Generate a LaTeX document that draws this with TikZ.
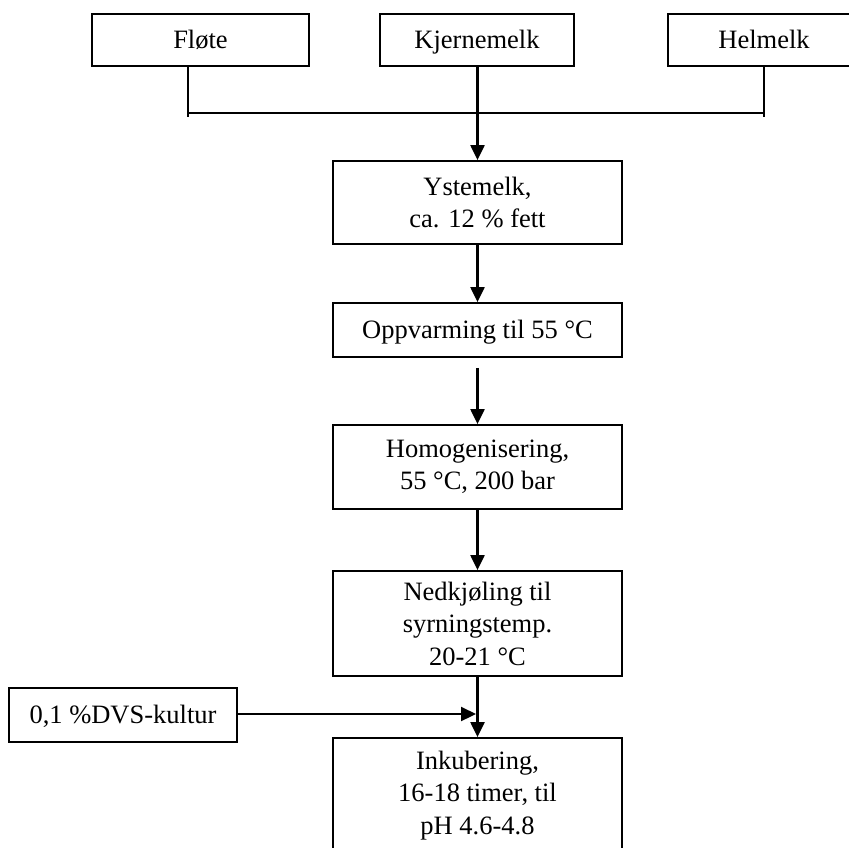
\documentclass[tikz,border=0pt]{standalone}
\usepackage{fontspec}
\setmainfont{Liberation Serif}
\usetikzlibrary{arrows.meta,calc}

\begin{document}
\begin{tikzpicture}[x=1pt,y=-1pt,
  every node/.style={font=\fontsize{26.5}{32.5}\selectfont},
  box/.style={draw=black,line width=1.8pt,align=center,inner sep=0pt,
              minimum width=289pt},
  topbox/.style={draw=black,line width=1.8pt,inner sep=0pt,minimum height=52pt,
                 text height=17.5pt,text depth=0pt},
  flow/.style={line width=2.2pt,-{Triangle[width=14pt,length=15pt]}},
  joint/.style={line width=1.8pt}]
\useasboundingbox (0,0) rectangle (849,847);

% raw materials
\node[topbox,minimum width=217pt] (flote) at (200.5,40) {Fløte};
\node[topbox,minimum width=194pt] (kjerne) at (477,40) {Kjernemelk};
\node[topbox,minimum width=192pt] (helmelk) at (764,40) {Helmelk};

% collecting bar
\coordinate (barL) at (188,113);
\coordinate (barR) at (764,113);
\draw[joint] (barL |- flote.south) -- ($(barL)+(0,4)$);
\draw[joint] (barR |- helmelk.south) -- ($(barR)+(0,4)$);
\draw[joint] (barL) -- (barR);

% process steps
\node[box,minimum height=83pt] (yste) at (477.5,202.5) {Ystemelk,\\ca. 12 \% fett};
\node[box,minimum height=54pt,text height=17.5pt,text depth=0pt] (oppv) at (477.5,330) {Oppvarming til 55 °C};
\node[box,minimum height=84pt] (homo) at (477.5,467) {Homogenisering,\\55 °C, 200 bar};
\node[box,minimum height=105pt] (nedk) at (477.5,623.5) {Nedkjøling til\\syrningstemp.\\20-21 °C};
\node[box,minimum height=115pt] (inku) at (477.5,795.5) {Inkubering,\\16-18 timer, til\\pH 4.6-4.8};

% starter culture
\node[topbox,minimum width=228pt,minimum height=54pt] (dvs) at (123,715) {0,1 \%DVS-kultur};
\coordinate (inlet) at (476,714);

% connectors
\draw[flow] (kjerne.south -| yste.north) -- (yste.north);
\draw[flow] (yste.south) -- (oppv.north);
\draw[flow,shorten <=10pt] (oppv.south) -- (homo.north);
\draw[flow] (homo.south) -- (nedk.north);
\draw[flow] (nedk.south) -- (inku.north);
\draw[flow] (dvs.east |- inlet) -- (inlet);
\end{tikzpicture}
\end{document}
